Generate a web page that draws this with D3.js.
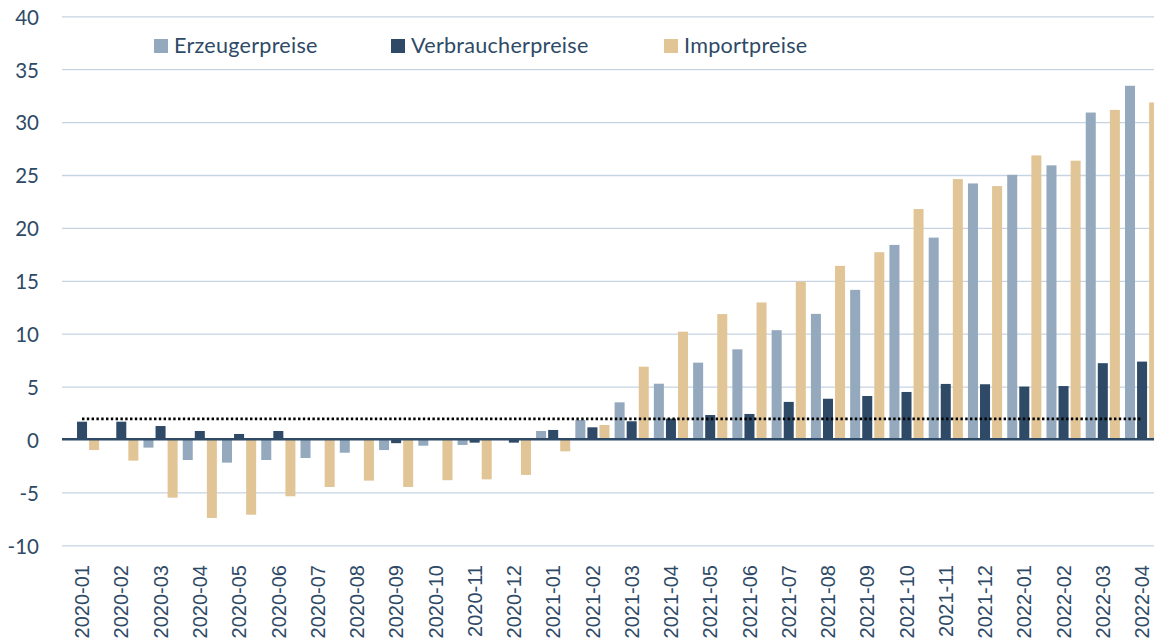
<!DOCTYPE html>
<html>
<head>
<meta charset="utf-8">
<script src="https://cdn.jsdelivr.net/npm/d3@7"></script>
<style>
  html, body { margin: 0; padding: 0; background: #fff; }
  svg { display: block; }
</style>
</head>
<body>
<div id="chart"></div>
<script>
// Monate (x-Achse)
const monate = [
    '2020-01', '2020-02', '2020-03', '2020-04', '2020-05', '2020-06',
    '2020-07', '2020-08', '2020-09', '2020-10', '2020-11', '2020-12',
    '2021-01', '2021-02', '2021-03', '2021-04', '2021-05', '2021-06',
    '2021-07', '2021-08', '2021-09', '2021-10', '2021-11', '2021-12',
    '2022-01', '2022-02', '2022-03', '2022-04'
];

// Veränderung zum Vorjahresmonat in %
const erzeugerpreise = [
    0.15, 0, -0.72, -1.89, -2.14, -1.89, -1.7, -1.2, -0.95, -0.54, -0.47, 0.15,
    0.85, 1.89, 3.56, 5.32, 7.31, 8.57, 10.38, 11.92, 14.19, 18.44, 19.13, 24.25,
    25.06, 25.96, 30.95, 33.48
];
const verbraucherpreise = [
    1.73, 1.73, 1.32, 0.85, 0.57, 0.85, 0, 0, -0.3, 0, -0.25, -0.25,
    0.95, 1.2, 1.77, 2.02, 2.36, 2.46, 3.6, 3.9, 4.16, 4.54, 5.3, 5.27,
    5.05, 5.1, 7.26, 7.41
];
const importpreise = [
    -0.95, -1.95, -5.45, -7.37, -7.06, -5.32, -4.44, -3.84, -4.44, -3.8, -3.72, -3.3,
    -1.07, 1.42, 6.93, 10.24, 11.9, 13.0, 14.98, 16.46, 17.75, 21.83, 24.66, 24.0,
    26.9, 26.4, 31.2, 31.9
];

const serien = ['Erzeugerpreise', 'Verbraucherpreise', 'Importpreise'];
const yTicks = [-10, -5, 0, 5, 10, 15, 20, 25, 30, 35, 40];
const zielwert = 2;

const farben = { Erzeugerpreise: '#94a9bd', Verbraucherpreise: '#2e4a66', Importpreise: '#e1c596' };
const textFarbe = '#2e4a66';

const width = 1154, height = 642;
const plot = { left: 62.4, right: 1161.7, top: 16.8, bottom: 545.8 };

const svg = d3.select('#chart')
    .append('svg')
    .attr('width', width)
    .attr('height', height);

const werte = {
    Erzeugerpreise: erzeugerpreise,
    Verbraucherpreise: verbraucherpreise,
    Importpreise: importpreise
};
const daten = monate.map((m, i) => ({
    monat: m,
    werte: serien.map(s => ({ serie: s, wert: werte[s][i] }))
}));

// Scales
const x0 = d3.scaleBand()
    .domain(monate)
    .range([plot.left, plot.right])
    .paddingInner(0.13)
    .paddingOuter(0.065);

const x1 = d3.scaleBand()
    .domain(serien)
    .range([0, x0.bandwidth()])
    .paddingInner(0.17);

const y = d3.scaleLinear()
    .domain([-10, 40])
    .range([plot.bottom, plot.top]);

// Gridlines
svg.append('g')
    .selectAll('line')
    .data(yTicks.filter(t => t !== 0))
    .enter()
    .append('line')
    .attr('x1', 62)
    .attr('x2', width)
    .attr('y1', d => y(d))
    .attr('y2', d => y(d))
    .style('stroke', '#c6d3e1')
    .style('stroke-width', 1.3);

// Y axis labels (plain hyphen as minus)
const yAxis = d3.axisLeft(y).tickValues(yTicks).tickFormat(d => String(d)).tickSize(0).tickPadding(0);
svg.append('g')
    .attr('transform', 'translate(39,0)')
    .call(yAxis)
    .call(g => g.select('.domain').remove())
    .selectAll('text')
    .attr('dy', '0.36em')
    .style('font-family', 'Lato, sans-serif')
    .style('font-size', '20.5px')
    .style('fill', textFarbe);

// Bars
const gruppen = svg.append('g')
    .selectAll('g')
    .data(daten)
    .enter()
    .append('g')
    .attr('transform', d => `translate(${x0(d.monat)},0)`);

gruppen.selectAll('rect')
    .data(d => d.werte)
    .enter()
    .append('rect')
    .attr('x', d => x1(d.serie))
    .attr('width', x1.bandwidth())
    .attr('y', d => y(Math.max(0, d.wert)))
    .attr('height', d => Math.abs(y(d.wert) - y(0)))
    .style('fill', d => farben[d.serie]);

// Zero line
svg.append('line')
    .attr('x1', 62)
    .attr('x2', width)
    .attr('y1', y(0) - 0.8)
    .attr('y2', y(0) - 0.8)
    .style('stroke', '#2e4a66')
    .style('stroke-width', 2.5);

// Dotted 2%-line
const xMitte = m => x0(m) + x0.bandwidth() / 2;
svg.append('line')
    .attr('x1', xMitte(monate[0]))
    .attr('x2', xMitte(monate[monate.length - 1]))
    .attr('y1', y(zielwert))
    .attr('y2', y(zielwert))
    .style('stroke', '#000')
    .style('stroke-width', 2.6)
    .style('stroke-dasharray', '2.4,2.4');

// X axis labels
const xAxis = d3.axisBottom(x0).tickSize(0).tickPadding(0);
svg.append('g')
    .attr('transform', `translate(0,565)`)
    .call(xAxis)
    .call(g => g.select('.domain').remove())
    .selectAll('text')
    .attr('transform', 'rotate(-90)')
    .attr('x', 0)
    .attr('y', 0)
    .attr('dy', '0.36em')
    .style('text-anchor', 'end')
    .style('font-family', '"Liberation Sans", Arial, sans-serif')
    .style('font-size', '20px')
    .style('fill', textFarbe);

// Legend
const legendeX = [154, 391, 664];
const legende = svg.append('g')
    .selectAll('g')
    .data(serien)
    .enter()
    .append('g')
    .attr('transform', (d, i) => `translate(${legendeX[i]},39)`);

legende.append('rect')
    .attr('width', 14)
    .attr('height', 14)
    .style('fill', d => farben[d]);

legende.append('text')
    .attr('x', 20)
    .attr('y', 14)
    .text(d => d)
    .style('font-family', 'Lato, sans-serif')
    .style('font-size', '21.6px')
    .style('letter-spacing', '0.25px')
    .style('fill', textFarbe);
</script>
</body>
</html>
